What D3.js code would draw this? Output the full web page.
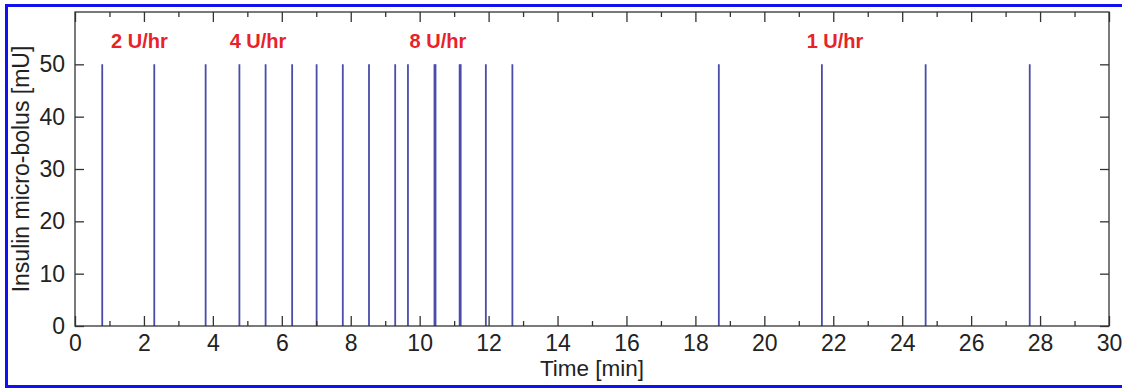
<!DOCTYPE html>
<html>
<head>
<meta charset="utf-8">
<script src="https://cdn.jsdelivr.net/npm/d3@7"></script>
<style>
  body { margin: 0; background: #fff; }
  svg text { font-family: "Liberation Sans", Arial, sans-serif; }
</style>
</head>
<body>
<div class="chart"></div>
<script>
// bolus delivery times [min] and size [mU]
const bolusTimes = [0.79, 2.30, 3.79, 4.77, 5.53, 6.30, 7.01, 7.77, 8.53, 9.29, 9.66,
                    10.43, 10.46, 11.16, 11.19, 11.92, 12.69, 18.68, 21.67, 24.68, 27.70];
const bolusSize = bolusTimes.map(() => 50);

const rateLabels = ['2 U/hr', '4 U/hr', '8 U/hr', '1 U/hr'];
const rateLabelX = [1.87, 5.31, 10.53, 22.05];
const rateLabelY = 53.2;

const xMajor = d3.range(0, 31, 2);
const xMinor = d3.range(1, 30, 2);
const yTicks = [0, 10, 20, 30, 40, 50];

const width = 1122;
const height = 390;

const x = d3.scaleLinear().domain([0, 30]).range([75, 1109]);
const y = d3.scaleLinear().domain([0, 60]).range([326, 12]);

const svg = d3.select('.chart')
    .append('svg')
    .attr('width', width)
    .attr('height', height);

// blue frame around the figure
svg.append('rect')
    .attr('x', 6.5)
    .attr('y', 5.5)
    .attr('width', 1130)
    .attr('height', 381)
    .attr('fill', 'none')
    .attr('stroke', '#1010f0')
    .attr('stroke-width', 3);

// bolus lines
svg.append('g')
  .selectAll('line')
  .data(bolusTimes)
  .join('line')
    .attr('x1', d => x(d))
    .attr('x2', d => x(d))
    .attr('y1', y(0))
    .attr('y2', (d, i) => y(bolusSize[i]))
    .attr('stroke', '#4a4caa')
    .attr('stroke-width', 1.8);

function styleAxis(g, labels) {
  g.select('.domain').remove();
  g.selectAll('.tick line').attr('stroke', '#333').attr('stroke-width', 1.3);
  if (!labels) g.selectAll('.tick text').remove();
  g.selectAll('.tick text')
      .attr('fill', '#222')
      .style('font-size', '23px');
}

// x axes
svg.append('g')
    .attr('transform', `translate(0,${y(0)})`)
    .call(d3.axisBottom(x).tickValues(xMajor).tickSize(-10).tickPadding(9).tickFormat(d3.format('d')))
    .call(g => styleAxis(g, true));
svg.append('g')
    .attr('transform', `translate(0,${y(0)})`)
    .call(d3.axisBottom(x).tickValues(xMinor).tickSize(-5))
    .call(g => styleAxis(g, false));
svg.append('g')
    .attr('transform', `translate(0,${y(60)})`)
    .call(d3.axisTop(x).tickValues(xMajor).tickSize(-10))
    .call(g => styleAxis(g, false));
svg.append('g')
    .attr('transform', `translate(0,${y(60)})`)
    .call(d3.axisTop(x).tickValues(xMinor).tickSize(-5))
    .call(g => styleAxis(g, false));

// y axes
svg.append('g')
    .attr('transform', `translate(${x(0)},0)`)
    .call(d3.axisLeft(y).tickValues(yTicks).tickSize(-9).tickPadding(10))
    .call(g => styleAxis(g, true));
svg.append('g')
    .attr('transform', `translate(${x(30)},0)`)
    .call(d3.axisRight(y).tickValues(yTicks).tickSize(-9))
    .call(g => styleAxis(g, false));

// plot box
svg.append('rect')
    .attr('x', x(0))
    .attr('y', y(60))
    .attr('width', x(30) - x(0))
    .attr('height', y(0) - y(60))
    .attr('fill', 'none')
    .attr('stroke', '#333')
    .attr('stroke-width', 1.3);

// rate annotations
svg.append('g')
  .selectAll('text')
  .data(rateLabels)
  .join('text')
    .attr('x', (d, i) => x(rateLabelX[i]))
    .attr('y', y(rateLabelY))
    .attr('text-anchor', 'middle')
    .attr('fill', '#e8222a')
    .style('font-size', '20px')
    .style('font-weight', 'bold')
    .text(d => d);

// axis titles
svg.append('text')
    .attr('x', (x(0) + x(30)) / 2)
    .attr('y', 376)
    .attr('text-anchor', 'middle')
    .attr('fill', '#222')
    .style('font-size', '22.5px')
    .text('Time [min]');

svg.append('text')
    .attr('transform', `translate(29,${(y(0) + y(60)) / 2}) rotate(-90)`)
    .attr('text-anchor', 'middle')
    .attr('fill', '#222')
    .style('font-size', '23px')
    .text('Insulin micro-bolus [mU]');
</script>
</body>
</html>
